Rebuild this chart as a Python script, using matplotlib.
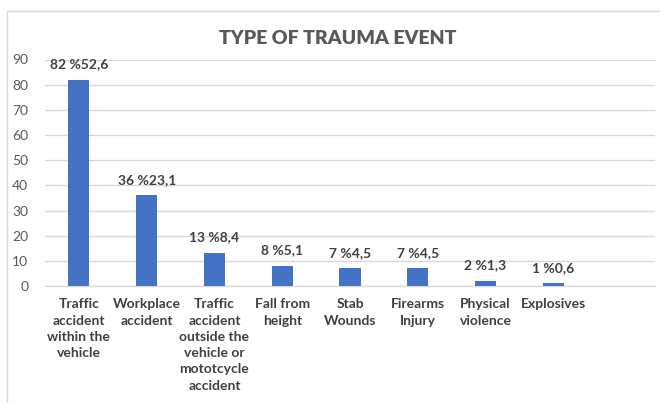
import matplotlib
matplotlib.use("Agg")
import matplotlib.pyplot as plt
from matplotlib.patches import Rectangle

categories = [
    "Traffic\naccident\nwithin the\nvehicle",
    "Workplace\naccident",
    "Traffic\naccident\noutside the\nvehicle or\nmototcycle\naccident",
    "Fall from\nheight",
    "Stab\nWounds",
    "Firearms\nInjury",
    "Physical\nviolence",
    "Explosives",
]
counts = [82, 36, 13, 8, 7, 7, 2, 1]
percents = ["52,6", "23,1", "8,4", "5,1", "4,5", "4,5", "1,3", "0,6"]
yticks = [0, 10, 20, 30, 40, 50, 60, 70, 80, 90]

plt.rcParams['font.family'] = ['Lato', 'DejaVu Sans']

fig = plt.figure(figsize=(6.6, 4.03), dpi=100)
ax = fig.add_axes([45/660, 1-286/403, 610/660, (286-59.5)/403])

x = list(range(len(categories)))
ax.bar(x, counts, width=0.31, color="#4472C4", zorder=3)
for xi, c, p in zip(x, counts, percents):
    ax.annotate(f"{c} %{p}", (xi, c), xytext=(0, 7), textcoords="offset points",
                ha="center", va="bottom", fontsize=10, fontweight="bold", color="#404040")

ax.set_xlim(-0.5, len(categories) + 0.5)
ax.set_ylim(0, 90)
ax.set_yticks(yticks)
ax.yaxis.grid(True, color="#D9D9D9", linewidth=1, zorder=0)
ax.set_axisbelow(True)
for s in ["left", "right", "top"]:
    ax.spines[s].set_visible(False)
ax.spines["bottom"].set_color("#D9D9D9")
ax.spines["bottom"].set_linewidth(1)
ax.set_xticks(x)
ax.set_xticklabels(categories, fontsize=10, fontweight="bold", color="#404040", linespacing=1.42)
ax.tick_params(axis="x", length=0, pad=9)
ax.tick_params(axis="y", length=0, pad=12, labelsize=10, labelcolor="#595959")

fig.text(338/660, 1-38/403, "TYPE OF TRAUMA EVENT", ha="center", va="center",
         fontsize=14, fontweight="heavy", color="#595959")

fig.patches.append(Rectangle((7/660, -0.1), 1.2, 1-11/403+0.1, transform=fig.transFigure,
                             fill=False, edgecolor="#D9D9D9", linewidth=1))

fig.savefig("out.png", dpi=100)
